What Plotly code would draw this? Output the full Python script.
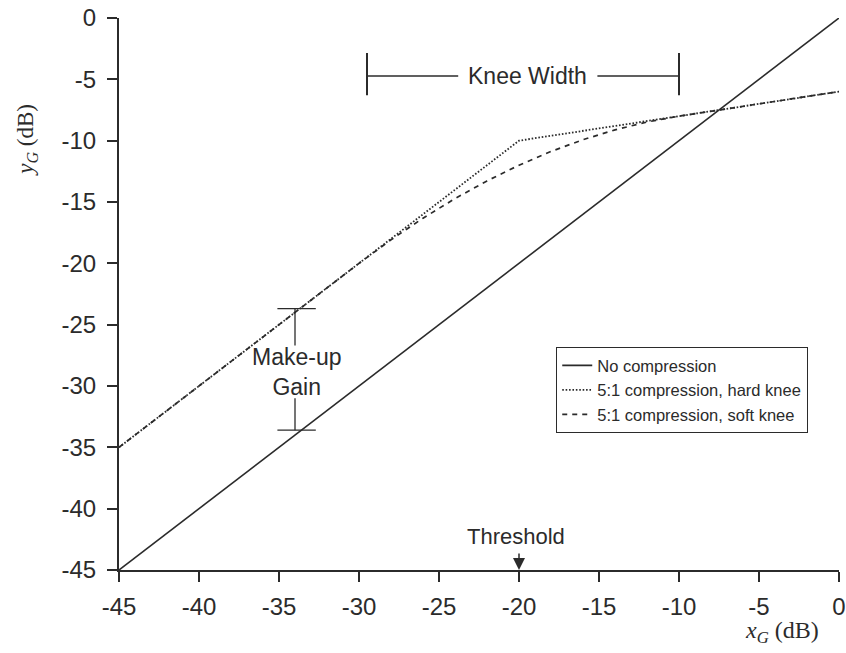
import plotly.graph_objects as go

# ---- data ----
x_none = [-45, 0]
y_none = [-45, 0]

x_hard = [-45, -20, 0]
y_hard = [-35, -10, -6]

x_soft = [-45, -30, -28, -26, -24, -22, -20, -18, -16, -14, -12, -10, 0]
y_soft = [-35, -20, -18.08, -16.32, -14.72, -13.28, -12, -10.88, -9.92, -9.12, -8.48, -8, -6]

series_names = ["No compression", "5:1 compression, hard knee", "5:1 compression, soft knee"]

tick_vals = [-45, -40, -35, -30, -25, -20, -15, -10, -5, 0]
tick_text = [str(v) for v in tick_vals]

# annotation positions (data units)
knee_left, knee_right, knee_y = -29.5, -10, -4.73
knee_gap_left, knee_gap_right = -23.8, -15.1
makeup_x, makeup_top, makeup_bot = -34, -23.7, -33.6
makeup_gap_top, makeup_gap_bot = -26.7, -31.0
threshold_x = -20

INK = "#2b2b2b"
FONT = "Liberation Sans, Arial, sans-serif"
SERIF = "Liberation Serif, Times New Roman, serif"

fig = go.Figure()
fig.add_trace(go.Scatter(x=x_none, y=y_none, mode="lines", name=series_names[0],
                         line=dict(color=INK, width=1.6, dash="solid")))
fig.add_trace(go.Scatter(x=x_hard, y=y_hard, mode="lines", name=series_names[1],
                         line=dict(color=INK, width=1.8, dash="1.6px,1.8px")))
fig.add_trace(go.Scatter(x=x_soft, y=y_soft, mode="lines", name=series_names[2],
                         line=dict(color=INK, width=1.7, dash="5px,5px")))

shapes = []
def seg(x0, y0, x1, y1, w=1.3):
    shapes.append(dict(type="line", xref="x", yref="y", x0=x0, y0=y0, x1=x1, y1=y1,
                       line=dict(color=INK, width=w)))

# knee width bracket
seg(knee_left, knee_y, knee_gap_left, knee_y)
seg(knee_gap_right, knee_y, knee_right, knee_y)
seg(knee_left, -2.85, knee_left, -6.3, 2)
seg(knee_right, -2.85, knee_right, -6.3, 2)
# make-up gain bracket
seg(makeup_x - 1.1, makeup_top, makeup_x + 1.3, makeup_top)
seg(makeup_x - 1.1, makeup_bot, makeup_x + 1.3, makeup_bot)
seg(makeup_x, makeup_top, makeup_x, makeup_gap_top)
seg(makeup_x, makeup_gap_bot, makeup_x, makeup_bot)

annotations = [
    dict(x=-19.47, y=knee_y, xref="x", yref="y", text="Knee Width", showarrow=False,
         xanchor="center", yanchor="middle",
         font=dict(family=FONT, size=23, color=INK)),
    dict(x=makeup_x + 0.1, y=-28.85, xref="x", yref="y", text="Make-up<br>Gain", showarrow=False,
         xanchor="center", yanchor="middle",
         font=dict(family=FONT, size=23, color=INK)),
    dict(x=threshold_x - 0.2, y=-42.3, xref="x", yref="y", text="Threshold", showarrow=False,
         xanchor="center", yanchor="middle",
         font=dict(family=FONT, size=22, color=INK)),
    dict(x=threshold_x, y=-45, xref="x", yref="y", text="", showarrow=True,
         ax=0, ay=-18, arrowhead=2, arrowsize=1.6, arrowwidth=1.5, arrowcolor=INK),
    dict(x=0.921, y=-0.112, xref="paper", yref="paper",
         text="<i>x</i><sub><i>G</i></sub> (dB)", showarrow=False,
         xanchor="center", yanchor="middle",
         font=dict(family=SERIF, size=24, color=INK)),
    dict(x=-0.128, y=0.779, xref="paper", yref="paper", textangle=-90,
         text="<i>y</i><sub><i>G</i></sub> (dB)", showarrow=False,
         xanchor="center", yanchor="middle",
         font=dict(family=SERIF, size=23, color=INK)),
]

axis_common = dict(
    tickmode="array", tickvals=tick_vals, ticktext=tick_text,
    ticks="outside", ticklen=10, tickwidth=1.5, tickcolor=INK,
    showline=True, linecolor=INK, linewidth=2,
    showgrid=False, zeroline=False, range=[-45, 0],
    automargin=False,
    tickfont=dict(family=FONT, size=24, color=INK),
)

fig.update_layout(
    width=846, height=653,
    margin=dict(l=119, r=7, t=18, b=83),
    paper_bgcolor="white", plot_bgcolor="white",
    xaxis=dict(**axis_common, ticklabelstandoff=4),
    yaxis=dict(**axis_common, ticklabelstandoff=6),
    showlegend=True,
    legend=dict(x=0.607, y=0.404, xanchor="left", yanchor="top",
                bordercolor=INK, borderwidth=1.2, bgcolor="white",
                font=dict(family=FONT, size=16.5, color=INK),
                tracegroupgap=0, itemwidth=30),
    shapes=shapes,
    annotations=annotations,
)

fig.write_html(
    "out.html",
    config={"displayModeBar": False},
    post_script="document.body.style.margin='0';document.body.style.padding='0';"
                "document.documentElement.style.overflow='hidden';",
)
